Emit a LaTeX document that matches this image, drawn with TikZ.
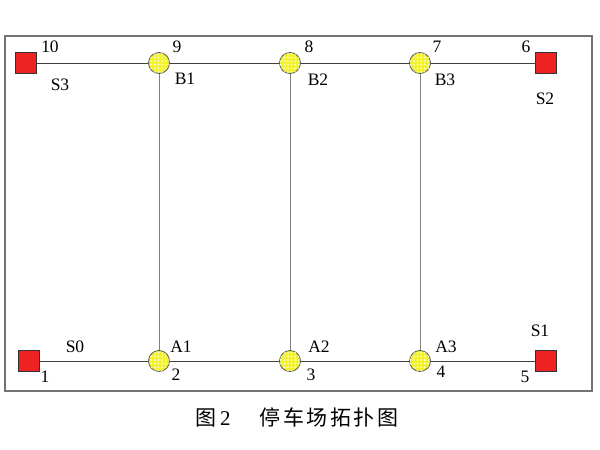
\documentclass[tikz,border=0pt]{standalone}
\usepackage{fontspec}
\setmainfont{Liberation Serif}
\newfontfamily\cjk{Noto Sans CJK SC}
\usetikzlibrary{patterns}
\definecolor{sqred}{HTML}{EE2222}
\definecolor{busyel}{HTML}{F2F230}
\pgfdeclarepatternformonly{busdots}{\pgfqpoint{-1pt}{-1pt}}{\pgfqpoint{1pt}{1pt}}{\pgfqpoint{3.6pt}{3.6pt}}{%
  \pgfpathcircle{\pgfqpoint{0pt}{0pt}}{0.85pt}\pgfusepath{fill}}
\tikzset{
  stop/.style={rectangle, draw=black!80, fill=sqred, minimum size=21pt, inner sep=0pt},
  bus/.style={circle, draw=black!65, line width=0.8pt, fill=busyel, minimum size=21pt, inner sep=0pt,
    postaction={pattern=busdots, pattern color=white}},
  lbl/.style={font=\fontsize{17.5}{17.5}\selectfont, inner sep=0pt}
}
\begin{document}
\begin{tikzpicture}[x=1pt,y=-1pt]
\useasboundingbox (0,0) rectangle (600,450);
\draw[black!55, line width=1.6pt] (5,36) rectangle (592,391);
\node[stop] (s3) at (26,63){};
\node[bus] (b1) at (159,63){};
\node[bus] (b2) at (290,63){};
\node[bus] (b3) at (420,63){};
\node[stop] (s2) at (546,63){};
\node[stop] (s0) at (29,361){};
\node[bus] (a1) at (159,361){};
\node[bus] (a2) at (290,361){};
\node[bus] (a3) at (420,361){};
\node[stop] (s1) at (546,361){};
\draw[black!75, line width=0.9pt](s3) -- (b1);
\draw[black!75, line width=0.9pt](b1) -- (b2);
\draw[black!75, line width=0.9pt](b2) -- (b3);
\draw[black!75, line width=0.9pt](b3) -- (s2);
\draw[black!75, line width=0.9pt](s0) -- (a1);
\draw[black!75, line width=0.9pt](a1) -- (a2);
\draw[black!75, line width=0.9pt](a2) -- (a3);
\draw[black!75, line width=0.9pt](a3) -- (s1);
\draw[black!50, line width=0.9pt](b1) -- (a1);
\draw[black!50, line width=0.9pt](b2) -- (a2);
\draw[black!50, line width=0.9pt](b3) -- (a3);
% numbers
\node[lbl] (n10) at (50,47){10};
\node[lbl] (n9) at (177,47){9};
\node[lbl] (n8) at (309,47){8};
\node[lbl] (n7) at (437,47){7};
\node[lbl] (n6) at (526,47){6};
\node[lbl] (n1) at (45,377){1};
\node[lbl] (n2) at (176,375){2};
\node[lbl] (n3) at (311,375){3};
\node[lbl] (n4) at (441,372){4};
\node[lbl] (n5) at (525,377){5};
% names
\node[lbl] (l3) at (60,85){S3};
\node[lbl] (lb1) at (185,79){B1};
\node[lbl] (lb2) at (318,80){B2};
\node[lbl] (lb3) at (445,80){B3};
\node[lbl] (l2) at (545,99){S2};
\node[lbl] (l0) at (75,347){S0};
\node[lbl] (la1) at (181,347){A1};
\node[lbl] (la2) at (319,347){A2};
\node[lbl] (la3) at (446,347){A3};
\node[lbl] (l1) at (540,331){S1};
\node[font=\fontsize{21}{21}\selectfont, inner sep=0pt] (cap) at (297,417){{\cjk 图}\,2\hspace{1.4em}{\cjk 停\hspace{0.12em}车\hspace{0.12em}场\hspace{0.12em}拓\hspace{0.12em}扑\hspace{0.12em}图}};
\end{tikzpicture}
\end{document}
